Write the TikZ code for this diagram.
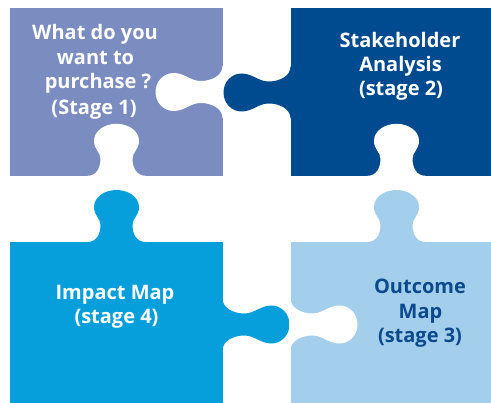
\documentclass[tikz,border=0pt]{standalone}
\usepackage{fontspec}
\setmainfont{Open Sans}
\definecolor{cA}{HTML}{7B8CC0}
\definecolor{cB}{HTML}{004A8F}
\definecolor{cC}{HTML}{A3CEEC}
\definecolor{cD}{HTML}{069FDB}
\definecolor{txtC}{HTML}{0B4A8C}
% vertical knob/hole: #1 centre x, #2 base y, #3 direction (-1 up, 1 down), #4 fill
\newcommand\vknob[4]{%
 \fill[#4] ({#1-29},{#2-1.5*(#3)}) -- ({#1-29},{#2})
  .. controls ({#1-20},{#2}) and ({#1-16},{#2+8*(#3)}) .. ({#1-16},{#2+17*(#3)})
  .. controls ({#1-16},{#2+24*(#3)}) and ({#1-22.5},{#2+26*(#3)}) .. ({#1-22.5},{#2+35*(#3)})
  .. controls ({#1-22.5},{#2+44.5*(#3)}) and ({#1-12.4},{#2+52*(#3)}) .. ({#1},{#2+52*(#3)})
  .. controls ({#1+12.4},{#2+52*(#3)}) and ({#1+22.5},{#2+44.5*(#3)}) .. ({#1+22.5},{#2+35*(#3)})
  .. controls ({#1+22.5},{#2+26*(#3)}) and ({#1+16},{#2+24*(#3)}) .. ({#1+16},{#2+17*(#3)})
  .. controls ({#1+16},{#2+8*(#3)}) and ({#1+20},{#2}) .. ({#1+29},{#2})
  -- ({#1+29},{#2-1.5*(#3)}) -- cycle;}
% horizontal knob/hole: #1 base x, #2 centre y, #3 direction (1 right, -1 left), #4 fill
\newcommand\hknob[4]{%
 \fill[#4] ({#1-1.5*(#3)},{#2-26}) -- ({#1},{#2-26})
  .. controls ({#1},{#2-17}) and ({#1+10*(#3)},{#2-11}) .. ({#1+22*(#3)},{#2-11})
  .. controls ({#1+32*(#3)},{#2-11}) and ({#1+38*(#3)},{#2-19}) .. ({#1+49*(#3)},{#2-19})
  .. controls ({#1+59*(#3)},{#2-19}) and ({#1+67*(#3)},{#2-10.5}) .. ({#1+67*(#3)},{#2})
  .. controls ({#1+67*(#3)},{#2+10.5}) and ({#1+59*(#3)},{#2+19}) .. ({#1+49*(#3)},{#2+19})
  .. controls ({#1+38*(#3)},{#2+19}) and ({#1+32*(#3)},{#2+11}) .. ({#1+22*(#3)},{#2+11})
  .. controls ({#1+10*(#3)},{#2+11}) and ({#1},{#2+17}) .. ({#1},{#2+26})
  -- ({#1-1.5*(#3)},{#2+26}) -- cycle;}
\begin{document}
\begin{tikzpicture}[x=1pt,y=-1pt,
  lbl/.style={font=\bfseries\fontsize{20}{24}\selectfont, text=white, anchor=base, inner sep=0pt},
  lbldark/.style={lbl, text=txtC}]
\useasboundingbox (0,0) rectangle (491,403);
% piece 1
\fill[cA] (10,8.3) rectangle (222.5,175.8);
\hknob{222.5}{92}{-1}{white}
\vknob{116.5}{175.8}{-1}{white}
% piece 2
\fill[cB] (290.5,8.3) rectangle (491,175.8);
\hknob{290.5}{92.5}{-1}{cB}
\vknob{396.5}{175.8}{-1}{white}
% piece 4
\fill[cD] (10,242) rectangle (222.5,403);
\vknob{116.5}{242}{-1}{cD}
\hknob{222.5}{324.5}{1}{cD}
% piece 3
\fill[cC] (290.5,242) rectangle (491,403);
\vknob{396.5}{242}{-1}{cC}
\hknob{290.5}{324.5}{1}{white}
% labels
\node[lbl] (t1a) at (95,40) {What do you};
\node[lbl] (t1b) at (95.5,64.5) {want to};
\node[lbl] (t1c) at (98,89) {purchase ?};
\node[lbl] (t1d) at (94,114.5) {(Stage 1)};
\node[lbl] (t2a) at (400,47.7) {Stakeholder};
\node[lbl] (t2b) at (400.5,71.7) {Analysis};
\node[lbl] (t2c) at (401,95.7) {(stage 2)};
\node[lbl] (t4a) at (115,300) {Impact Map};
\node[lbl] (t4b) at (116.5,323.8) {(stage 4)};
\node[lbldark] (t3a) at (420,294) {Outcome};
\node[lbldark] (t3b) at (420.5,318.3) {Map};
\node[lbldark] (t3c) at (420,342.7) {(stage 3)};
\end{tikzpicture}
\end{document}
